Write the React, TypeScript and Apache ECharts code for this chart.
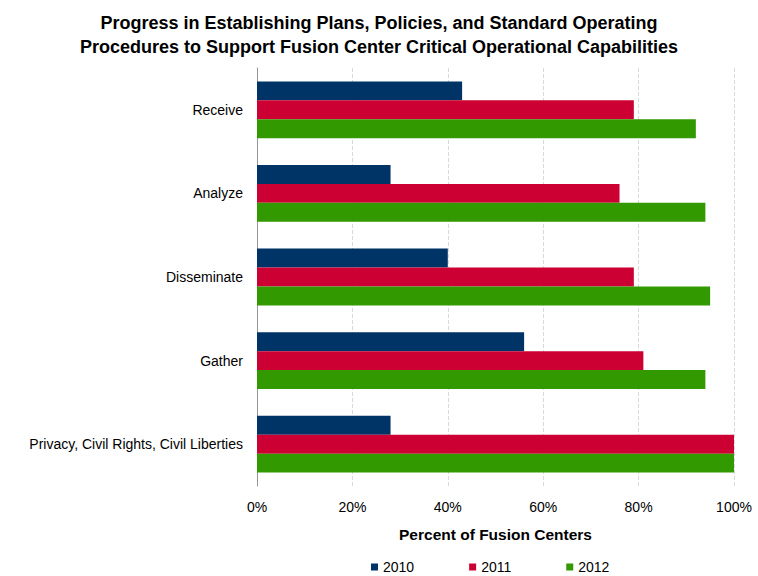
import React, { useEffect, useRef } from "react";
import * as echarts from "echarts";

const categories = ["Receive", "Analyze", "Disseminate", "Gather", "Privacy, Civil Rights, Civil Liberties"];
const seriesNames = ["2010", "2011", "2012"];
const values2010 = [43, 28, 40, 56, 28];
const values2011 = [79, 76, 79, 81, 100];
const values2012 = [92, 94, 95, 94, 100];
const xTicks = [0, 20, 40, 60, 80, 100];
const colors = ["#003366", "#CC0033", "#339900"];

export default function App() {
  const ref = useRef<HTMLDivElement>(null);
  useEffect(() => {
    const chart = echarts.init(ref.current!, null, { renderer: "svg" });
    const data = [values2010, values2011, values2012];
    chart.setOption({
      animation: false,
      title: {
        text: "Progress in Establishing Plans, Policies, and Standard Operating\nProcedures to Support Fusion Center Critical Operational Capabilities",
        left: "center",
        top: 6,
        textStyle: {
          fontFamily: "Liberation Sans, Arial, sans-serif",
          fontSize: 18,
          fontWeight: "bold",
          color: "#000",
          lineHeight: 24,
        },
      },
      legend: {
        data: seriesNames,
        left: 371,
        top: 560,
        padding: 0,
        itemWidth: 7,
        itemHeight: 7,
        itemGap: 55,
        icon: "rect",
        textStyle: { fontFamily: "Liberation Sans, Arial, sans-serif", fontSize: 14, color: "#000", lineHeight: 14 },
      },
      grid: { left: 257, right: 24, top: 68, bottom: 90, containLabel: false },
      xAxis: {
        type: "value",
        min: 0,
        max: 100,
        interval: 20,
        name: "Percent of Fusion Centers",
        nameLocation: "middle",
        nameGap: 40,
        nameTextStyle: { fontFamily: "Liberation Sans, Arial, sans-serif", fontSize: 15.5, fontWeight: "bold", color: "#000" },
        axisLine: { show: false },
        axisTick: { show: false },
        axisLabel: {
          fontFamily: "Liberation Sans, Arial, sans-serif",
          fontSize: 14,
          color: "#000",
          margin: 14,
          formatter: (v: number) => (xTicks.includes(v) ? v + "%" : ""),
        },
        splitLine: { show: true, lineStyle: { type: "dashed", color: "#d9d9d9", width: 1 } },
      },
      yAxis: {
        type: "category",
        data: categories,
        inverse: true,
        axisLine: { show: true, lineStyle: { color: "#969696", width: 1 } },
        axisTick: { show: false },
        axisLabel: { fontFamily: "Liberation Sans, Arial, sans-serif", fontSize: 14, color: "#000", margin: 14 },
      },
      series: seriesNames.map((name, i) => ({
        name,
        type: "bar",
        data: data[i],
        barGap: "0%",
        barCategoryGap: "32%",
        itemStyle: { color: colors[i] },
      })),
    });
    return () => chart.dispose();
  }, []);
  return <div ref={ref} style={{ width: 758, height: 576, position: "absolute", left: 0, top: 0, background: "#fff" }} />;
}
